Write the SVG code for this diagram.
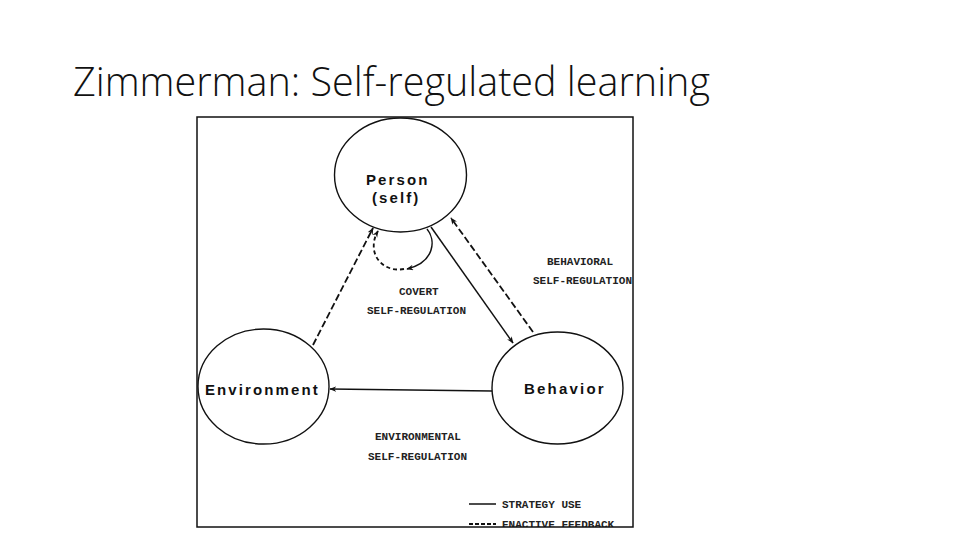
<svg xmlns="http://www.w3.org/2000/svg" width="960" height="540" viewBox="0 0 960 540">
  <style>
    .title { font-family: "Open Sans", "Liberation Sans", sans-serif; font-weight: 300; font-size: 41px; fill: #111; }
    .node ellipse { fill: #fff; stroke: #111; stroke-width: 1.4; }
    .node text { font-family: "Liberation Sans", Arial, sans-serif; font-weight: bold; font-size: 15px; fill: #111; }
    .lbl { font-family: "Courier New", "Liberation Mono", monospace; font-weight: bold; font-size: 11px; fill: #222; }
    .solid { fill: none; stroke: #111; stroke-width: 1.5; }
    .dash { fill: none; stroke: #111; stroke-width: 1.8; stroke-dasharray: 7 3; }
  </style>
  <defs>
    <marker id="arr" viewBox="0 0 10 8" refX="9" refY="4" markerWidth="7" markerHeight="6" markerUnits="userSpaceOnUse" orient="auto">
      <path d="M0,0 L10,4 L0,8 L3,4 z" fill="#111"/>
    </marker>
    <clipPath id="frameClip">
      <rect x="197" y="117" width="436" height="410"/>
    </clipPath>
  </defs>
  <rect width="960" height="540" fill="#fff"/>
  <text class="title" x="73" y="96" textLength="637" lengthAdjust="spacingAndGlyphs">Zimmerman: Self-regulated learning</text>

  <g clip-path="url(#frameClip)">
    <rect x="197" y="117" width="436" height="410" fill="#fff"/>

    <g id="connectors">
      <path class="dash" d="M313,345 L373,228" marker-end="url(#arr)"/>
      <path class="solid" d="M431,227 L513,343" marker-end="url(#arr)"/>
      <path class="dash" d="M533,332 L451,218" marker-end="url(#arr)"/>
      <path class="solid" d="M492,391 L330,389" marker-end="url(#arr)"/>
      <path class="solid" d="M427,229 C436,240 435,262 407,269" marker-end="url(#arr)"/>
      <path class="dash" style="stroke-dasharray:4 3" d="M404,269 C388,272 376,262 374,250 C373,242 375,236 378,231" marker-end="url(#arr)"/>
    </g>

    <g id="person" class="node">
      <ellipse cx="400.5" cy="175" rx="66" ry="57"/>
      <text x="366" y="185" letter-spacing="2.1">Person</text>
      <text x="372" y="203" letter-spacing="2.1">(self)</text>
    </g>
    <g id="environment" class="node">
      <ellipse cx="263.5" cy="386.5" rx="65.5" ry="57.5"/>
      <text x="205" y="395" letter-spacing="2.1">Environment</text>
    </g>
    <g id="behavior" class="node">
      <ellipse cx="557.5" cy="388" rx="65.5" ry="56"/>
      <text x="524" y="394" letter-spacing="2.2">Behavior</text>
    </g>

    <g id="labels">
      <text class="lbl" x="547" y="265">BEHAVIORAL</text>
      <text class="lbl" x="533" y="284">SELF-REGULATION</text>
      <text class="lbl" x="399" y="295">COVERT</text>
      <text class="lbl" x="367" y="314">SELF-REGULATION</text>
      <text class="lbl" x="375" y="440">ENVIRONMENTAL</text>
      <text class="lbl" x="368" y="460">SELF-REGULATION</text>
    </g>

    <g id="legend">
      <line class="solid" x1="469" y1="504" x2="496" y2="504"/>
      <text class="lbl" x="502" y="508">STRATEGY USE</text>
      <line class="dash" style="stroke-dasharray:4 2" x1="469" y1="524" x2="496" y2="524"/>
      <text class="lbl" x="502" y="528">ENACTIVE FEEDBACK</text>
    </g>
  </g>
  <rect x="197" y="117" width="436" height="410" fill="none" stroke="#111" stroke-width="1.5"/>
</svg>
